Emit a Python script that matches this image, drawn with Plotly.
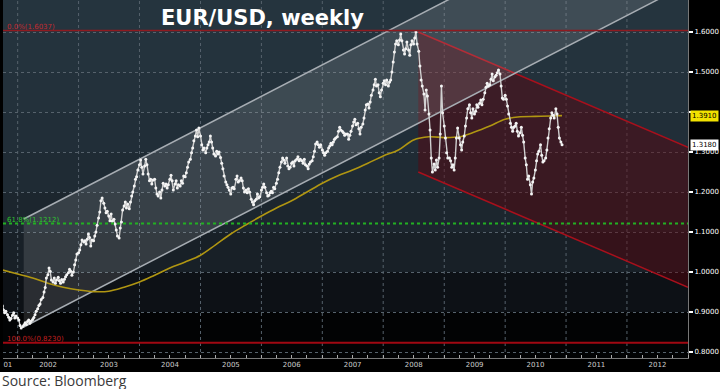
import plotly.graph_objects as go
import pandas as pd

# ---------------- data ----------------
# EUR/USD, ~4 readings per month (Oct 2001 - Dec 2010)
price_2001 = [0.915, 0.905, 0.898, 0.902, 0.893, 0.887, 0.880, 0.884, 0.892, 0.898, 0.885, 0.890]
price_2002 = [0.885, 0.880, 0.866, 0.860, 0.864, 0.868, 0.873, 0.869, 0.876, 0.880, 0.872, 0.877,
              0.881, 0.886, 0.893, 0.902, 0.908, 0.916, 0.920, 0.931, 0.936, 0.950, 0.961, 0.985,
              0.993, 1.010, 1.002, 0.980, 0.975, 0.985, 0.972, 0.980, 0.987, 0.978, 0.972, 0.981,
              0.975, 0.982, 0.988, 0.993, 0.998, 1.007, 1.002, 0.992, 1.000, 1.018, 1.030, 1.045]
price_2003 = [1.048, 1.055, 1.068, 1.080, 1.075, 1.078, 1.070, 1.082, 1.095, 1.086, 1.065, 1.080,
              1.078, 1.090, 1.100, 1.117, 1.135, 1.150, 1.178, 1.185, 1.172, 1.160, 1.148, 1.152,
              1.140, 1.128, 1.145, 1.127, 1.132, 1.120, 1.105, 1.090, 1.085, 1.110, 1.125, 1.155,
              1.165, 1.175, 1.160, 1.170, 1.158, 1.175, 1.190, 1.200, 1.215, 1.232, 1.238, 1.255]
price_2004 = [1.268, 1.280, 1.262, 1.245, 1.265, 1.282, 1.268, 1.245, 1.228, 1.232, 1.220, 1.230,
              1.232, 1.210, 1.195, 1.190, 1.200, 1.185, 1.205, 1.222, 1.215, 1.220, 1.210, 1.218,
              1.232, 1.242, 1.228, 1.205, 1.220, 1.228, 1.210, 1.218, 1.215, 1.228, 1.222, 1.240,
              1.238, 1.248, 1.262, 1.275, 1.282, 1.298, 1.310, 1.328, 1.340, 1.355, 1.338, 1.360]
price_2005 = [1.340, 1.318, 1.305, 1.310, 1.298, 1.310, 1.318, 1.325, 1.340, 1.325, 1.310, 1.295,
              1.290, 1.302, 1.295, 1.300, 1.286, 1.272, 1.258, 1.240, 1.225, 1.218, 1.212, 1.205,
              1.195, 1.210, 1.212, 1.208, 1.232, 1.240, 1.225, 1.228, 1.235, 1.228, 1.210, 1.200,
              1.205, 1.198, 1.208, 1.200, 1.182, 1.175, 1.168, 1.178, 1.182, 1.195, 1.185, 1.188]
price_2006 = [1.205, 1.212, 1.220, 1.212, 1.198, 1.190, 1.192, 1.198, 1.202, 1.198, 1.212, 1.208,
              1.222, 1.232, 1.248, 1.262, 1.275, 1.285, 1.280, 1.272, 1.285, 1.265, 1.258, 1.262,
              1.272, 1.275, 1.265, 1.278, 1.282, 1.288, 1.278, 1.282, 1.278, 1.272, 1.282, 1.268,
              1.265, 1.258, 1.270, 1.275, 1.278, 1.288, 1.302, 1.320, 1.325, 1.318, 1.312, 1.318]
price_2007 = [1.305, 1.298, 1.292, 1.298, 1.302, 1.310, 1.315, 1.322, 1.318, 1.325, 1.332, 1.335,
              1.338, 1.352, 1.362, 1.355, 1.352, 1.348, 1.342, 1.345, 1.345, 1.332, 1.342, 1.352,
              1.365, 1.375, 1.382, 1.368, 1.372, 1.358, 1.345, 1.362, 1.370, 1.385, 1.405, 1.418,
              1.420, 1.410, 1.425, 1.442, 1.455, 1.468, 1.482, 1.465, 1.468, 1.448, 1.438, 1.455]
price_2008 = [1.472, 1.478, 1.468, 1.480, 1.465, 1.475, 1.480, 1.500, 1.525, 1.550, 1.570, 1.578,
              1.568, 1.580, 1.595, 1.578, 1.555, 1.545, 1.558, 1.575, 1.555, 1.542, 1.568, 1.578,
              1.570, 1.585, 1.600, 1.570, 1.552, 1.515, 1.480, 1.465, 1.445, 1.405, 1.455, 1.440,
              1.395, 1.355, 1.285, 1.250, 1.270, 1.255, 1.280, 1.262, 1.285, 1.345, 1.465, 1.398]
price_2009 = [1.365, 1.335, 1.298, 1.285, 1.285, 1.278, 1.262, 1.268, 1.255, 1.285, 1.335, 1.360,
              1.335, 1.318, 1.305, 1.325, 1.340, 1.365, 1.385, 1.408, 1.418, 1.398, 1.385, 1.408,
              1.395, 1.402, 1.418, 1.412, 1.422, 1.430, 1.418, 1.432, 1.448, 1.462, 1.472, 1.465,
              1.468, 1.482, 1.495, 1.478, 1.488, 1.492, 1.498, 1.505, 1.495, 1.465, 1.435, 1.432]
price_2010 = [1.442, 1.432, 1.415, 1.395, 1.372, 1.362, 1.352, 1.362, 1.365, 1.372, 1.352, 1.340,
              1.348, 1.362, 1.342, 1.325, 1.285, 1.268, 1.232, 1.240, 1.218, 1.195, 1.225, 1.235,
              1.255, 1.278, 1.295, 1.302, 1.318, 1.292, 1.275, 1.278, 1.285, 1.305, 1.335, 1.358,
              1.385, 1.398, 1.392, 1.385, 1.408, 1.395, 1.362, 1.335, 1.325, 1.318]

price_by_year = {2001: price_2001, 2002: price_2002, 2003: price_2003, 2004: price_2004,
                 2005: price_2005, 2006: price_2006, 2007: price_2007, 2008: price_2008,
                 2009: price_2009, 2010: price_2010}

# moving average (yellow), quarterly readings
ma_dates = ["2001-10-01", "2002-01-01", "2002-04-01", "2002-07-01", "2002-10-01", "2003-01-01",
            "2003-04-01", "2003-07-01", "2003-10-01", "2004-01-01", "2004-04-01", "2004-07-01",
            "2004-10-01", "2005-01-01", "2005-04-01", "2005-07-01", "2005-10-01", "2006-01-01",
            "2006-04-01", "2006-07-01", "2006-10-01", "2007-01-01", "2007-04-01", "2007-07-01",
            "2007-10-01", "2008-01-01", "2008-04-01", "2008-07-01", "2008-10-01", "2009-01-01",
            "2009-04-01", "2009-07-01", "2009-10-01", "2010-01-01", "2010-04-01", "2010-07-01",
            "2010-10-01", "2010-12-08"]
ma_values = [1.005, 0.995, 0.985, 0.972, 0.962, 0.955, 0.951, 0.952, 0.962, 0.975, 0.992, 1.010,
             1.025, 1.042, 1.068, 1.095, 1.118, 1.140, 1.160, 1.178, 1.200, 1.222, 1.240, 1.255,
             1.272, 1.290, 1.305, 1.330, 1.338, 1.336, 1.338, 1.350, 1.365, 1.382, 1.388, 1.389,
             1.390, 1.391]

# Fibonacci levels
fib_levels = [1.6037, 1.1212, 0.8230]
fib_labels = ["0.0%(1.6037)", "61.8%(1.1212)", "100.0%(0.8230)"]

# trend channels
up_channel_dates = ["2002-02-06", "2013-01-01"]
up_channel_upper = [1.1325, 1.990]
up_channel_lower = [0.8625, 1.720]
down_channel_dates = ["2008-07-29", "2013-01-01"]
down_channel_upper = [1.600, 1.312]
down_channel_lower = [1.250, 0.962]

# axis labels
year_label_dates = ["2001-11-03"] + [f"{y}-07-02" for y in range(2002, 2013)]
year_labels = ["01"] + [str(y) for y in range(2002, 2013)]
y_ticks = [0.8, 0.9, 1.0, 1.1, 1.2, 1.3, 1.4, 1.5, 1.6]
y_hidden_label = 1.4   # covered by the moving-average flag in the original

# ---------------- build series ----------------
dates, prices = [], []
for yr, arr in price_by_year.items():
    m0 = 10 if yr == 2001 else 1
    for i, v in enumerate(arr):
        m = m0 + i // 4
        d = 1 + 7 * (i % 4)
        dates.append(f"{yr}-{m:02d}-{d:02d}")
        prices.append(v)

W, H = 720, 389
ML, MR, MT, MB = 3, 32, 0, 31
PW, PH = W - ML - MR, H - MT - MB

fig = go.Figure()

# down channel (red)
fig.add_trace(go.Scatter(x=down_channel_dates, y=down_channel_lower, mode="lines",
                         line=dict(color="#a8101c", width=1.5), hoverinfo="skip"))
fig.add_trace(go.Scatter(x=down_channel_dates, y=down_channel_upper, mode="lines", fill="tonexty",
                         fillcolor="rgba(95,0,10,0.42)",
                         line=dict(color="#a8101c", width=1.5), hoverinfo="skip"))
# up channel (grey)
fig.add_trace(go.Scatter(x=up_channel_dates, y=up_channel_lower, mode="lines",
                         line=dict(color="#a7adb3", width=1.5), hoverinfo="skip"))
fig.add_trace(go.Scatter(x=up_channel_dates, y=up_channel_upper, mode="lines", fill="tonexty",
                         fillcolor="rgba(255,255,255,0.12)",
                         line=dict(color="#a7adb3", width=1.5), hoverinfo="skip"))
# moving average
fig.add_trace(go.Scatter(x=ma_dates, y=ma_values, mode="lines",
                         line=dict(color="#b09612", width=1.6, shape="spline"), hoverinfo="skip"))
# price
fig.add_trace(go.Scatter(x=dates, y=prices, mode="lines+markers",
                         line=dict(color="#d0d0d0", width=1.4),
                         marker=dict(color="#f4f4f4", size=3), hoverinfo="skip"))

# background bands
bands = [(1.6, 1.75, "#25343e"), (1.5, 1.6, "#24333d"), (1.4, 1.5, "#23313b"),
         (1.3, 1.4, "#212e38"), (1.2, 1.3, "#1f2b34"), (1.1, 1.2, "#1c262e"),
         (1.0, 1.1, "#182027"), (0.9, 1.0, "#0d1116"), (0.7, 0.9, "#020304")]
for y0, y1, c in bands:
    fig.add_shape(type="rect", xref="paper", yref="y", x0=0, x1=1, y0=y0, y1=y1,
                  fillcolor=c, line_width=0, layer="below")

# vertical year gridlines
for yr in range(2002, 2013):
    fig.add_shape(type="line", xref="x", yref="paper", x0=f"{yr}-01-01", x1=f"{yr}-01-01",
                  y0=0, y1=1, line=dict(color="#56626c", width=1, dash="dot"), layer="below")

# fib lines + labels
fib_styles = [dict(color="#8f1a20", width=1.5), dict(color="#22b022", width=1.8, dash="dot"),
              dict(color="#a00812", width=2)]
fib_text_colors = ["#c42a30", "#2ec22e", "#c42020"]
for lvl, lab, st, tc in zip(fib_levels, fib_labels, fib_styles, fib_text_colors):
    fig.add_shape(type="line", xref="paper", yref="y", x0=0, x1=1, y0=lvl, y1=lvl, line=st)
    fig.add_annotation(xref="paper", yref="y", x=2 / PW, y=lvl, text=lab, showarrow=False,
                       xanchor="left", yanchor="bottom", yshift=-2,
                       font=dict(family="DejaVu Sans", size=7, color=tc))

# source strip (white) below the black axis area
fig.add_shape(type="rect", xref="paper", yref="paper", x0=-ML / PW, x1=(W - ML) / PW,
              y0=-MB / PH, y1=-14 / PH, fillcolor="white", line_width=0, layer="above")
fig.add_annotation(xref="paper", yref="paper", x=-ML / PW, y=-23 / PH, text="Source: Bloomberg",
                   showarrow=False, xanchor="left", yanchor="middle",
                   font=dict(family="Open Sans", size=14, color="#3a3a3a"))

# title
fig.add_annotation(xref="paper", yref="paper", x=(262 - ML) / PW, y=1 - 18 / PH,
                   text="<b>EUR/USD, weekly</b>", showarrow=False, xanchor="center", yanchor="middle",
                   font=dict(family="DejaVu Sans", size=21, color="white"))

# last-value flags on right axis
fig.add_annotation(xref="paper", yref="y", x=1, y=ma_values[-1], text=f"{ma_values[-1]:.4f}",
                   showarrow=False, xanchor="left", xshift=2, bgcolor="#f2e200",
                   font=dict(family="DejaVu Sans", size=7, color="black"), borderpad=1)
fig.add_annotation(xref="paper", yref="y", x=1, y=prices[-1], text=f"{prices[-1]:.4f}",
                   showarrow=False, xanchor="left", xshift=2, bgcolor="#ffffff",
                   font=dict(family="DejaVu Sans", size=7, color="black"), borderpad=1)

quarters = [d.strftime("%Y-%m-%d") for d in pd.date_range("2002-01-01", "2013-01-01", freq="QS")]

fig.update_layout(
    width=W, height=H, margin=dict(l=ML, r=MR, t=MT, b=MB, autoexpand=False),
    paper_bgcolor="black", plot_bgcolor="#020304", showlegend=False,
    xaxis=dict(type="date", range=["2001-10-05", "2013-01-01"], tickmode="array",
               tickvals=year_label_dates, ticktext=year_labels, ticks="", showgrid=False,
               zeroline=False, showline=True, linecolor="#777", linewidth=1,
               tickfont=dict(family="DejaVu Sans", size=7, color="#cccccc"),
               minor=dict(tickmode="array", tickvals=quarters, ticks="inside", ticklen=3,
                          tickcolor="#aaaaaa", showgrid=False)),
    yaxis=dict(range=[0.785, 1.68], side="right", tickmode="array", tickvals=y_ticks,
               ticktext=["" if abs(v - y_hidden_label) < 1e-9 else f"{v:.4f}" for v in y_ticks],
               ticks="outside", ticklen=4, tickwidth=2,
               tickcolor="white", showgrid=True, gridcolor="#56626c", griddash="dot",
               zeroline=False, showline=True, linecolor="#777",
               tickfont=dict(family="DejaVu Sans", size=7, color="white")),
)

fig.write_html("out.html", config={"displayModeBar": False},
               post_script="document.body.style.margin='0';document.body.style.padding='0';")
